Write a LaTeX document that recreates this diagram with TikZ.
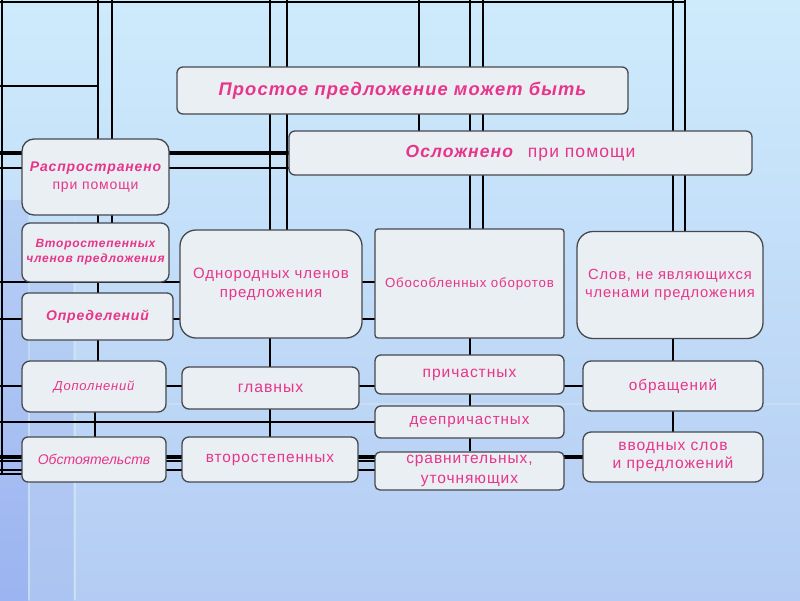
\documentclass[tikz,border=0pt]{standalone}
\usepackage{fontspec}
\setmainfont{Liberation Sans}
\newfontfamily\wideSans[LetterSpace=6]{Liberation Sans}
\usetikzlibrary{backgrounds}
\definecolor{slPink}{HTML}{E8348A}
\definecolor{slFill}{HTML}{E9EFF3}
\definecolor{slEdge}{HTML}{45494F}
\definecolor{bgTop}{HTML}{CEEBFC}
\definecolor{bgBot}{HTML}{B4CCF3}
\definecolor{bgDeep}{HTML}{96AEF1}
\definecolor{bgMid}{HTML}{AAC2F1}
\definecolor{bgGlow}{HTML}{D2E4F4}

\begin{document}
\begin{tikzpicture}[x=1pt,y=-1pt,
      bx/.style={draw=slEdge,fill=slFill,line width=1.3pt,rounded corners=6pt,
                 align=center,text=slPink,inner sep=1pt},
      gl/.style={line width=2.8pt,black},
      fs/.style 2 args={font=\wideSans\fontsize{#1}{#2}\selectfont}]
    \useasboundingbox (0,0) rectangle (800,600);

    % slide background
    \shade[top color=bgTop,bottom color=bgBot] (0,0) rectangle (800,600);
    \shade[top color=bgBot,bottom color=bgDeep,opacity=0.8] (0,200) rectangle (28,600);
    \shade[top color=bgBot,bottom color=bgMid,opacity=0.8] (30,260) rectangle (73,600);
    \draw[bgGlow,line width=2pt,opacity=0.8] (75,215) -- (75,600);
    \draw[bgGlow,line width=2pt,opacity=0.6] (29,380) -- (29,600);
    \draw[bgGlow,line width=2pt,opacity=0.6] (160,404) -- (800,404);
    \draw[bgGlow,line width=6pt,opacity=0.7] (169,161) -- (289,161);

    % grid of the template
    \foreach \x/\ya/\yb in {2/0/474,98/0/386,95/386/437,112/0/223,270/0/437,287/0/230,
                            419/0/131,470/0/451,483/0/229,673/0/432,685/0/231}
      \draw[gl] (\x,\ya) -- (\x,\yb);
    \foreach \y/\xa/\xb in {2/0/685,86/0/98,168/0/289,282/0/375,319/0/375,
                            386/0/583,422/0/375,461/0/375,470/0/375,474/0/22}
      \draw[gl] (\xa,\y) -- (\xb,\y);
    \draw[gl,line width=3.8pt] (0,153) -- (289,153);
    \draw[gl,line width=3.6pt] (0,457) -- (583,457);

    % top row
    \node[bx,minimum width=451pt,minimum height=47pt,
          font=\wideSans\fontsize{18.3}{22}\selectfont\bfseries\itshape]
          (simple) at (402.5,90.5) {Простое предложение может быть};
    \node[bx,minimum width=463pt,minimum height=44pt,
          font=\wideSans\fontsize{17.5}{21}\selectfont] (compl) at (520.5,153)
          {{\bfseries\itshape Осложнено}\hspace{15pt}при помощи};

    % left column
    \node[bx,fs={14}{18},rounded corners=12pt,minimum width=147pt,minimum height=76pt]
          (spread) at (95.5,177) {{\bfseries\itshape Распространено}\\при помощи};
    \node[bx,rounded corners=8pt,minimum width=147pt,minimum height=59pt,
          font=\wideSans\fontsize{12}{15}\selectfont\bfseries\itshape]
          (minor) at (95.5,252.5) {Второстепенных\\членов предложения};
    \node[bx,minimum width=151pt,minimum height=47pt,
          font=\wideSans\fontsize{14}{17}\selectfont\bfseries\itshape]
          (attr) at (97.5,316.5) {Определений};
    \node[bx,rounded corners=8pt,minimum width=144pt,minimum height=51pt,
          font=\wideSans\fontsize{13}{16}\selectfont\itshape]
          (obj) at (94,386.5) {Дополнений};
    \node[bx,minimum width=144pt,minimum height=45pt,
          font=\fontsize{14}{16}\selectfont\itshape]
          (adv) at (94,459.5) {Обстоятельств};

    % middle row
    \node[bx,fs={15}{19},rounded corners=16pt,minimum width=182pt,minimum height=108pt]
          (homog) at (271,284) {Однородных членов\\предложения};
    \node[bx,fs={13.3}{16},rounded corners=3pt,minimum width=189pt,minimum height=109pt]
          (sep) at (469.5,283.5) {Обособленных оборотов};
    \node[bx,fs={14.7}{18.5},rounded corners=16pt,minimum width=186pt,minimum height=107pt]
          (words) at (670,285) {Слов, не являющихся\\членами предложения};

    % lower boxes
    \node[bx,fs={15.8}{19},rounded corners=7pt,minimum width=177pt,minimum height=42pt]
          (main) at (270.5,388) {главных};
    \node[bx,fs={15.4}{19},rounded corners=7pt,minimum width=176pt,minimum height=45pt]
          (second) at (270,459.5) {второстепенных};
    \node[bx,fs={15.6}{19},minimum width=189pt,minimum height=39pt]
          (part) at (469.5,374.5) {причастных};
    \node[bx,fs={15.2}{18},minimum width=189pt,minimum height=32pt]
          (gerund) at (469.5,422) {деепричастных};
    \node[bx,fs={15.5}{19.5},rounded corners=5pt,minimum width=189pt,minimum height=38pt]
          (compar) at (469.5,471) {сравнительных,\\уточняющих};
    \node[bx,fs={15.3}{19},rounded corners=8pt,minimum width=180pt,minimum height=50pt]
          (address) at (673,386) {обращений};
    \node[bx,fs={15.6}{18.5},rounded corners=8pt,minimum width=180pt,minimum height=50pt]
          (intro) at (673,457) {вводных слов\\и предложений};
  \end{tikzpicture}
\end{document}
